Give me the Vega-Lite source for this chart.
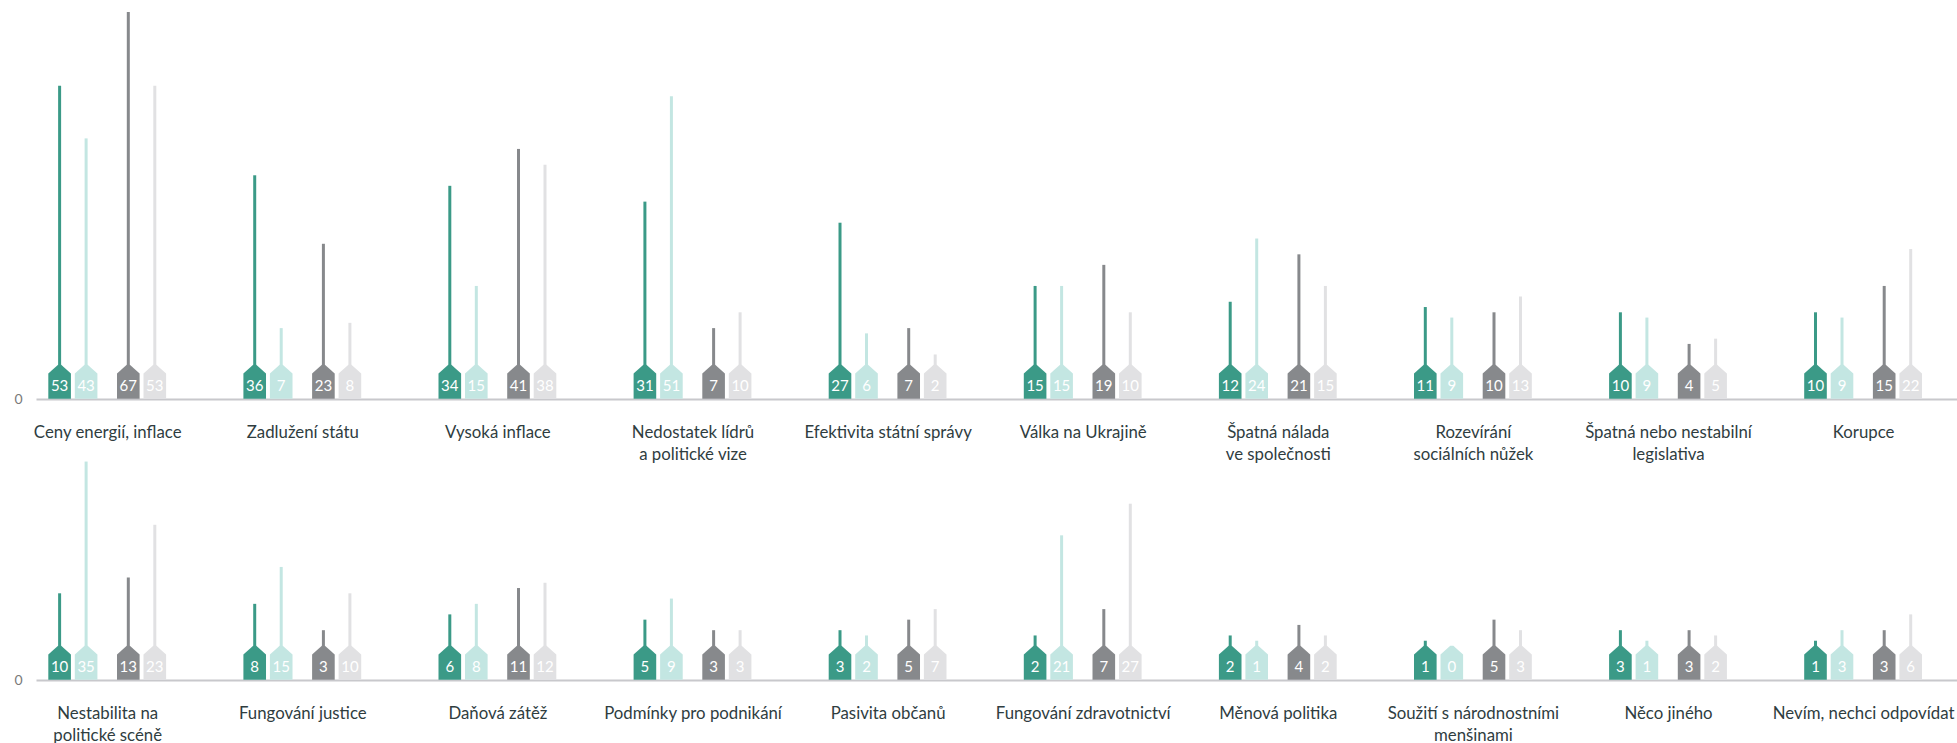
{
  "$schema": "https://vega.github.io/schema/vega-lite/v6.json",
  "padding": {"left": 13, "top": 0, "right": 0, "bottom": 0},
  "background": "white",
  "spacing": 61,
  "bounds": "flush",
  "config": {
    "view": {"stroke": null},
    "font": "Lato",
    "axis": {"title": null, "grid": false, "ticks": false, "labelFont": "Lato"},
    "axisY": {"domain": false, "labelFontSize": 14, "labelColor": "#7a7a7a", "labelPadding": 14},
    "axisX": {"domainColor": "#c8c8cc", "domainWidth": 2, "labelFontSize": 16.8, "labelColor": "#2f3d3f", "labelPadding": 25, "labelAngle": 0, "labelLimit": 400, "labelLineHeight": 22, "labelOverlap": false}
  },
  "data": {"values": [
    {"row": 1, "cat": "Ceny energií, inflace", "s": "s1", "v": 53},
    {"row": 1, "cat": "Ceny energií, inflace", "s": "s2", "v": 43},
    {"row": 1, "cat": "Ceny energií, inflace", "s": "s3", "v": 67},
    {"row": 1, "cat": "Ceny energií, inflace", "s": "s4", "v": 53},
    {"row": 1, "cat": "Zadlužení státu", "s": "s1", "v": 36},
    {"row": 1, "cat": "Zadlužení státu", "s": "s2", "v": 7},
    {"row": 1, "cat": "Zadlužení státu", "s": "s3", "v": 23},
    {"row": 1, "cat": "Zadlužení státu", "s": "s4", "v": 8},
    {"row": 1, "cat": "Vysoká inflace", "s": "s1", "v": 34},
    {"row": 1, "cat": "Vysoká inflace", "s": "s2", "v": 15},
    {"row": 1, "cat": "Vysoká inflace", "s": "s3", "v": 41},
    {"row": 1, "cat": "Vysoká inflace", "s": "s4", "v": 38},
    {"row": 1, "cat": "Nedostatek lídrů a politické vize", "s": "s1", "v": 31},
    {"row": 1, "cat": "Nedostatek lídrů a politické vize", "s": "s2", "v": 51},
    {"row": 1, "cat": "Nedostatek lídrů a politické vize", "s": "s3", "v": 7},
    {"row": 1, "cat": "Nedostatek lídrů a politické vize", "s": "s4", "v": 10},
    {"row": 1, "cat": "Efektivita státní správy", "s": "s1", "v": 27},
    {"row": 1, "cat": "Efektivita státní správy", "s": "s2", "v": 6},
    {"row": 1, "cat": "Efektivita státní správy", "s": "s3", "v": 7},
    {"row": 1, "cat": "Efektivita státní správy", "s": "s4", "v": 2},
    {"row": 1, "cat": "Válka na Ukrajině", "s": "s1", "v": 15},
    {"row": 1, "cat": "Válka na Ukrajině", "s": "s2", "v": 15},
    {"row": 1, "cat": "Válka na Ukrajině", "s": "s3", "v": 19},
    {"row": 1, "cat": "Válka na Ukrajině", "s": "s4", "v": 10},
    {"row": 1, "cat": "Špatná nálada ve společnosti", "s": "s1", "v": 12},
    {"row": 1, "cat": "Špatná nálada ve společnosti", "s": "s2", "v": 24},
    {"row": 1, "cat": "Špatná nálada ve společnosti", "s": "s3", "v": 21},
    {"row": 1, "cat": "Špatná nálada ve společnosti", "s": "s4", "v": 15},
    {"row": 1, "cat": "Rozevírání sociálních nůžek", "s": "s1", "v": 11},
    {"row": 1, "cat": "Rozevírání sociálních nůžek", "s": "s2", "v": 9},
    {"row": 1, "cat": "Rozevírání sociálních nůžek", "s": "s3", "v": 10},
    {"row": 1, "cat": "Rozevírání sociálních nůžek", "s": "s4", "v": 13},
    {"row": 1, "cat": "Špatná nebo nestabilní legislativa", "s": "s1", "v": 10},
    {"row": 1, "cat": "Špatná nebo nestabilní legislativa", "s": "s2", "v": 9},
    {"row": 1, "cat": "Špatná nebo nestabilní legislativa", "s": "s3", "v": 4},
    {"row": 1, "cat": "Špatná nebo nestabilní legislativa", "s": "s4", "v": 5},
    {"row": 1, "cat": "Korupce", "s": "s1", "v": 10},
    {"row": 1, "cat": "Korupce", "s": "s2", "v": 9},
    {"row": 1, "cat": "Korupce", "s": "s3", "v": 15},
    {"row": 1, "cat": "Korupce", "s": "s4", "v": 22},
    {"row": 2, "cat": "Nestabilita na politické scéně", "s": "s1", "v": 10},
    {"row": 2, "cat": "Nestabilita na politické scéně", "s": "s2", "v": 35},
    {"row": 2, "cat": "Nestabilita na politické scéně", "s": "s3", "v": 13},
    {"row": 2, "cat": "Nestabilita na politické scéně", "s": "s4", "v": 23},
    {"row": 2, "cat": "Fungování justice", "s": "s1", "v": 8},
    {"row": 2, "cat": "Fungování justice", "s": "s2", "v": 15},
    {"row": 2, "cat": "Fungování justice", "s": "s3", "v": 3},
    {"row": 2, "cat": "Fungování justice", "s": "s4", "v": 10},
    {"row": 2, "cat": "Daňová zátěž", "s": "s1", "v": 6},
    {"row": 2, "cat": "Daňová zátěž", "s": "s2", "v": 8},
    {"row": 2, "cat": "Daňová zátěž", "s": "s3", "v": 11},
    {"row": 2, "cat": "Daňová zátěž", "s": "s4", "v": 12},
    {"row": 2, "cat": "Podmínky pro podnikání", "s": "s1", "v": 5},
    {"row": 2, "cat": "Podmínky pro podnikání", "s": "s2", "v": 9},
    {"row": 2, "cat": "Podmínky pro podnikání", "s": "s3", "v": 3},
    {"row": 2, "cat": "Podmínky pro podnikání", "s": "s4", "v": 3},
    {"row": 2, "cat": "Pasivita občanů", "s": "s1", "v": 3},
    {"row": 2, "cat": "Pasivita občanů", "s": "s2", "v": 2},
    {"row": 2, "cat": "Pasivita občanů", "s": "s3", "v": 5},
    {"row": 2, "cat": "Pasivita občanů", "s": "s4", "v": 7},
    {"row": 2, "cat": "Fungování zdravotnictví", "s": "s1", "v": 2},
    {"row": 2, "cat": "Fungování zdravotnictví", "s": "s2", "v": 21},
    {"row": 2, "cat": "Fungování zdravotnictví", "s": "s3", "v": 7},
    {"row": 2, "cat": "Fungování zdravotnictví", "s": "s4", "v": 27},
    {"row": 2, "cat": "Měnová politika", "s": "s1", "v": 2},
    {"row": 2, "cat": "Měnová politika", "s": "s2", "v": 1},
    {"row": 2, "cat": "Měnová politika", "s": "s3", "v": 4},
    {"row": 2, "cat": "Měnová politika", "s": "s4", "v": 2},
    {"row": 2, "cat": "Soužití s národnostními menšinami", "s": "s1", "v": 1},
    {"row": 2, "cat": "Soužití s národnostními menšinami", "s": "s2", "v": 0},
    {"row": 2, "cat": "Soužití s národnostními menšinami", "s": "s3", "v": 5},
    {"row": 2, "cat": "Soužití s národnostními menšinami", "s": "s4", "v": 3},
    {"row": 2, "cat": "Něco jiného", "s": "s1", "v": 3},
    {"row": 2, "cat": "Něco jiného", "s": "s2", "v": 1},
    {"row": 2, "cat": "Něco jiného", "s": "s3", "v": 3},
    {"row": 2, "cat": "Něco jiného", "s": "s4", "v": 2},
    {"row": 2, "cat": "Nevím, nechci odpovídat", "s": "s1", "v": 1},
    {"row": 2, "cat": "Nevím, nechci odpovídat", "s": "s2", "v": 3},
    {"row": 2, "cat": "Nevím, nechci odpovídat", "s": "s3", "v": 3},
    {"row": 2, "cat": "Nevím, nechci odpovídat", "s": "s4", "v": 6}
  ]},
  "vconcat": [
    {
      "width": 1922,
      "height": 399,
      "transform": [{"filter": "datum.row == 1"}],
      "encoding": {
        "x": {"field": "cat", "type": "nominal", "sort": null,
          "scale": {"type": "point", "padding": 0.4257, "align": 0.4287},
          "axis": {"labelExpr": "datum.value == 'Nedostatek lídrů a politické vize' ? ['Nedostatek lídrů', 'a politické vize'] : datum.value == 'Špatná nálada ve společnosti' ? ['Špatná nálada', 've společnosti'] : datum.value == 'Rozevírání sociálních nůžek' ? ['Rozevírání', 'sociálních nůžek'] : datum.value == 'Špatná nebo nestabilní legislativa' ? ['Špatná nebo nestabilní', 'legislativa'] : datum.value"}}
      },
      "layer": [
        {"transform": [{"filter": "datum.s == 's1'"}], "layer": [
          {"mark": {"type": "rule", "color": "#3b9a87", "strokeWidth": 3, "xOffset": -47.6, "yOffset": -34, "y2Offset": -30},
           "encoding": {"y": {"field": "v", "type": "quantitative", "scale": {"domain": [0, 75.71], "nice": false, "zero": true}, "axis": {"values": [0]}}, "y2": {"datum": 0}}},
          {"mark": {"type": "point", "shape": "M-0.665,1L-0.665,-0.48L-0.09,-1L0.09,-1L0.665,-0.48L0.665,1Z", "size": 1156, "filled": true, "opacity": 1, "color": "#3b9a87", "strokeWidth": 0, "xOffset": -47.6, "yOffset": -17.25},
           "encoding": {"y": {"datum": 0, "type": "quantitative"}}},
          {"mark": {"type": "text", "color": "white", "fontSize": 15, "font": "Lato", "baseline": "middle", "xOffset": -47.6, "yOffset": -13},
           "encoding": {"y": {"datum": 0, "type": "quantitative"}, "text": {"field": "v"}}}
        ]},
        {"transform": [{"filter": "datum.s == 's2'"}], "layer": [
          {"mark": {"type": "rule", "color": "#c3e6e2", "strokeWidth": 3, "xOffset": -21.1, "yOffset": -34, "y2Offset": -30},
           "encoding": {"y": {"field": "v", "type": "quantitative"}, "y2": {"datum": 0}}},
          {"mark": {"type": "point", "shape": "M-0.665,1L-0.665,-0.48L-0.09,-1L0.09,-1L0.665,-0.48L0.665,1Z", "size": 1156, "filled": true, "opacity": 1, "color": "#c3e6e2", "strokeWidth": 0, "xOffset": -21.1, "yOffset": -17.25},
           "encoding": {"y": {"datum": 0, "type": "quantitative"}}},
          {"mark": {"type": "text", "color": "white", "fontSize": 15, "font": "Lato", "baseline": "middle", "xOffset": -21.1, "yOffset": -13},
           "encoding": {"y": {"datum": 0, "type": "quantitative"}, "text": {"field": "v"}}}
        ]},
        {"transform": [{"filter": "datum.s == 's3'"}], "layer": [
          {"mark": {"type": "rule", "color": "#87898c", "strokeWidth": 3, "xOffset": 21.1, "yOffset": -34, "y2Offset": -30},
           "encoding": {"y": {"field": "v", "type": "quantitative"}, "y2": {"datum": 0}}},
          {"mark": {"type": "point", "shape": "M-0.665,1L-0.665,-0.48L-0.09,-1L0.09,-1L0.665,-0.48L0.665,1Z", "size": 1156, "filled": true, "opacity": 1, "color": "#87898c", "strokeWidth": 0, "xOffset": 21.1, "yOffset": -17.25},
           "encoding": {"y": {"datum": 0, "type": "quantitative"}}},
          {"mark": {"type": "text", "color": "white", "fontSize": 15, "font": "Lato", "baseline": "middle", "xOffset": 21.1, "yOffset": -13},
           "encoding": {"y": {"datum": 0, "type": "quantitative"}, "text": {"field": "v"}}}
        ]},
        {"transform": [{"filter": "datum.s == 's4'"}], "layer": [
          {"mark": {"type": "rule", "color": "#e1e1e3", "strokeWidth": 3, "xOffset": 47.6, "yOffset": -34, "y2Offset": -30},
           "encoding": {"y": {"field": "v", "type": "quantitative"}, "y2": {"datum": 0}}},
          {"mark": {"type": "point", "shape": "M-0.665,1L-0.665,-0.48L-0.09,-1L0.09,-1L0.665,-0.48L0.665,1Z", "size": 1156, "filled": true, "opacity": 1, "color": "#e1e1e3", "strokeWidth": 0, "xOffset": 47.6, "yOffset": -17.25},
           "encoding": {"y": {"datum": 0, "type": "quantitative"}}},
          {"mark": {"type": "text", "color": "white", "fontSize": 15, "font": "Lato", "baseline": "middle", "xOffset": 47.6, "yOffset": -13},
           "encoding": {"y": {"datum": 0, "type": "quantitative"}, "text": {"field": "v"}}}
        ]}
      ]
    },
    {
      "width": 1922,
      "height": 220,
      "transform": [{"filter": "datum.row == 2"}],
      "encoding": {
        "x": {"field": "cat", "type": "nominal", "sort": null,
          "scale": {"type": "point", "padding": 0.4257, "align": 0.4287},
          "axis": {"labelExpr": "datum.value == 'Nestabilita na politické scéně' ? ['Nestabilita na', 'politické scéně'] : datum.value == 'Soužití s národnostními menšinami' ? ['Soužití s národnostními', 'menšinami'] : datum.value"}}
      },
      "layer": [
        {"transform": [{"filter": "datum.s == 's1'"}], "layer": [
          {"mark": {"type": "rule", "color": "#3b9a87", "strokeWidth": 3, "xOffset": -47.6, "yOffset": -34, "y2Offset": -30},
           "encoding": {"y": {"field": "v", "type": "quantitative", "scale": {"domain": [0, 41.745], "nice": false, "zero": true}, "axis": {"values": [0]}}, "y2": {"datum": 0}}},
          {"mark": {"type": "point", "shape": "M-0.665,1L-0.665,-0.48L-0.09,-1L0.09,-1L0.665,-0.48L0.665,1Z", "size": 1156, "filled": true, "opacity": 1, "color": "#3b9a87", "strokeWidth": 0, "xOffset": -47.6, "yOffset": -17.25},
           "encoding": {"y": {"datum": 0, "type": "quantitative"}}},
          {"mark": {"type": "text", "color": "white", "fontSize": 15, "font": "Lato", "baseline": "middle", "xOffset": -47.6, "yOffset": -13},
           "encoding": {"y": {"datum": 0, "type": "quantitative"}, "text": {"field": "v"}}}
        ]},
        {"transform": [{"filter": "datum.s == 's2'"}], "layer": [
          {"mark": {"type": "rule", "color": "#c3e6e2", "strokeWidth": 3, "xOffset": -21.1, "yOffset": -34, "y2Offset": -30},
           "encoding": {"y": {"field": "v", "type": "quantitative"}, "y2": {"datum": 0}}},
          {"mark": {"type": "point", "shape": "M-0.665,1L-0.665,-0.48L-0.09,-1L0.09,-1L0.665,-0.48L0.665,1Z", "size": 1156, "filled": true, "opacity": 1, "color": "#c3e6e2", "strokeWidth": 0, "xOffset": -21.1, "yOffset": -17.25},
           "encoding": {"y": {"datum": 0, "type": "quantitative"}}},
          {"mark": {"type": "text", "color": "white", "fontSize": 15, "font": "Lato", "baseline": "middle", "xOffset": -21.1, "yOffset": -13},
           "encoding": {"y": {"datum": 0, "type": "quantitative"}, "text": {"field": "v"}}}
        ]},
        {"transform": [{"filter": "datum.s == 's3'"}], "layer": [
          {"mark": {"type": "rule", "color": "#87898c", "strokeWidth": 3, "xOffset": 21.1, "yOffset": -34, "y2Offset": -30},
           "encoding": {"y": {"field": "v", "type": "quantitative"}, "y2": {"datum": 0}}},
          {"mark": {"type": "point", "shape": "M-0.665,1L-0.665,-0.48L-0.09,-1L0.09,-1L0.665,-0.48L0.665,1Z", "size": 1156, "filled": true, "opacity": 1, "color": "#87898c", "strokeWidth": 0, "xOffset": 21.1, "yOffset": -17.25},
           "encoding": {"y": {"datum": 0, "type": "quantitative"}}},
          {"mark": {"type": "text", "color": "white", "fontSize": 15, "font": "Lato", "baseline": "middle", "xOffset": 21.1, "yOffset": -13},
           "encoding": {"y": {"datum": 0, "type": "quantitative"}, "text": {"field": "v"}}}
        ]},
        {"transform": [{"filter": "datum.s == 's4'"}], "layer": [
          {"mark": {"type": "rule", "color": "#e1e1e3", "strokeWidth": 3, "xOffset": 47.6, "yOffset": -34, "y2Offset": -30},
           "encoding": {"y": {"field": "v", "type": "quantitative"}, "y2": {"datum": 0}}},
          {"mark": {"type": "point", "shape": "M-0.665,1L-0.665,-0.48L-0.09,-1L0.09,-1L0.665,-0.48L0.665,1Z", "size": 1156, "filled": true, "opacity": 1, "color": "#e1e1e3", "strokeWidth": 0, "xOffset": 47.6, "yOffset": -17.25},
           "encoding": {"y": {"datum": 0, "type": "quantitative"}}},
          {"mark": {"type": "text", "color": "white", "fontSize": 15, "font": "Lato", "baseline": "middle", "xOffset": 47.6, "yOffset": -13},
           "encoding": {"y": {"datum": 0, "type": "quantitative"}, "text": {"field": "v"}}}
        ]}
      ]
    }
  ]
}
